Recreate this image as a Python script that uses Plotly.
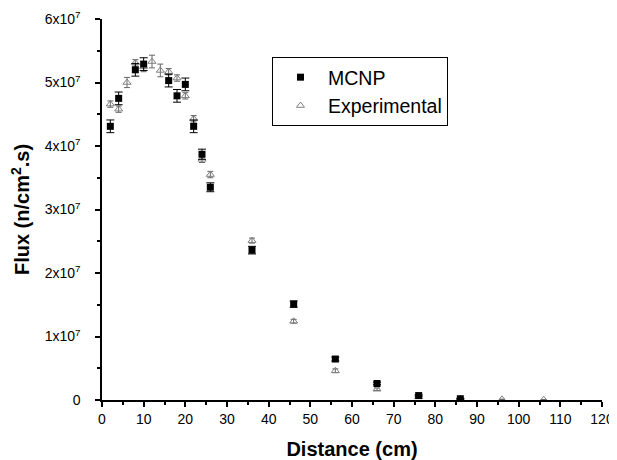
import plotly.graph_objects as go

distance_mcnp = [2, 4, 8, 10, 16, 18, 20, 22, 24, 26, 36, 46, 56, 66, 76, 86]
flux_mcnp = [4.31e7, 4.75e7, 5.20e7, 5.29e7, 5.03e7, 4.79e7, 4.97e7, 4.31e7, 3.87e7, 3.35e7, 2.36e7, 1.51e7, 0.645e7, 0.26e7, 0.07e7, 0.02e7]
err_mcnp = [0.1e7, 0.1e7, 0.1e7, 0.1e7, 0.1e7, 0.1e7, 0.1e7, 0.1e7, 0.08e7, 0.07e7, 0.06e7, 0.05e7, 0.03e7, 0.02e7, 0.01e7, 0.005e7]

distance_exp = [2, 4, 6, 8, 10, 12, 14, 16, 18, 20, 22, 24, 26, 36, 46, 56, 66, 76, 86, 96, 106]
flux_exp = [4.66e7, 4.58e7, 5.00e7, 5.31e7, 5.25e7, 5.33e7, 5.19e7, 5.17e7, 5.07e7, 4.79e7, 4.43e7, 3.79e7, 3.55e7, 2.51e7, 1.24e7, 0.46e7, 0.17e7, 0.05e7, 0.02e7, 0.01e7, 0.005e7]
err_exp = [0.05e7, 0.05e7, 0.08e7, 0.05e7, 0.08e7, 0.1e7, 0.1e7, 0.05e7, 0.05e7, 0.05e7, 0.05e7, 0.05e7, 0.05e7, 0.04e7, 0.03e7, 0.03e7, 0.02e7, 0.01e7, 0.005e7, 0.003e7, 0.002e7]

y_tickvals = [0, 1e7, 2e7, 3e7, 4e7, 5e7, 6e7]
y_ticktext = ["0", "1x10<sup>7</sup>", "2x10<sup>7</sup>", "3x10<sup>7</sup>", "4x10<sup>7</sup>", "5x10<sup>7</sup>", "6x10<sup>7</sup>"]
x_tickvals = list(range(0, 121, 10))

fig = go.Figure()
fig.add_trace(go.Scatter(
    x=distance_exp, y=flux_exp, mode="markers", name="Experimental",
    marker=dict(symbol="triangle-up-open", size=7, color="#808080", line=dict(width=1)),
    error_y=dict(type="data", array=err_exp, color="#666666", thickness=1, width=3),
))
fig.add_trace(go.Scatter(
    x=distance_mcnp, y=flux_mcnp, mode="markers", name="MCNP",
    marker=dict(symbol="square", size=7, color="black"),
    error_y=dict(type="data", array=err_mcnp, color="black", thickness=1, width=4),
))

# page body has an 8px margin, so the figure is offset by (8, 8) in the window
W, H = 609, 452
L, T = 94, 11
PW, PH = 500, 381

font_family = "Liberation Sans, Arial, sans-serif"
fig.update_layout(
    template="none",
    width=W, height=H,
    margin=dict(l=L, r=W - L - PW, t=T, b=H - T - PH, pad=0),
    paper_bgcolor="white", plot_bgcolor="white",
    font=dict(family=font_family, size=14, color="black"),
    showlegend=True,
    legend=dict(
        x=(272 - 8 - L) / PW, y=(PH - (57 - 8 - T)) / PH, xanchor="left", yanchor="top",
        bordercolor="black", borderwidth=1, bgcolor="white",
        font=dict(size=19.5), traceorder="reversed",
        itemwidth=45,
    ),
    xaxis=dict(
        range=[0, 120], tickvals=x_tickvals, automargin=False,
        showline=True, linecolor="black", linewidth=1.5,
        ticks="outside", ticklen=5, tickwidth=1.5, tickcolor="black",
        minor=dict(ticks="outside", ticklen=3, dtick=5, tickwidth=1.5, tickcolor="black"),
        showgrid=False, zeroline=False,
        title=dict(text="<b>Distance (cm)</b>", font=dict(size=20), standoff=21),
        tickfont=dict(size=14),
    ),
    yaxis=dict(
        range=[0, 6e7], tickvals=y_tickvals, ticktext=y_ticktext, automargin=False,
        showline=True, linecolor="black", linewidth=1.5,
        ticks="outside", ticklen=5, tickwidth=1.5, tickcolor="black",
        ticklabelstandoff=12,
        minor=dict(ticks="outside", ticklen=3, dtick=0.5e7, tickwidth=1.5, tickcolor="black"),
        showgrid=False, zeroline=False,
        title=dict(text="<b>Flux (n/cm<sup>2</sup>.s)</b>", font=dict(size=20), standoff=12),
        tickfont=dict(size=14),
    ),
)

fig.write_html("out.html")
